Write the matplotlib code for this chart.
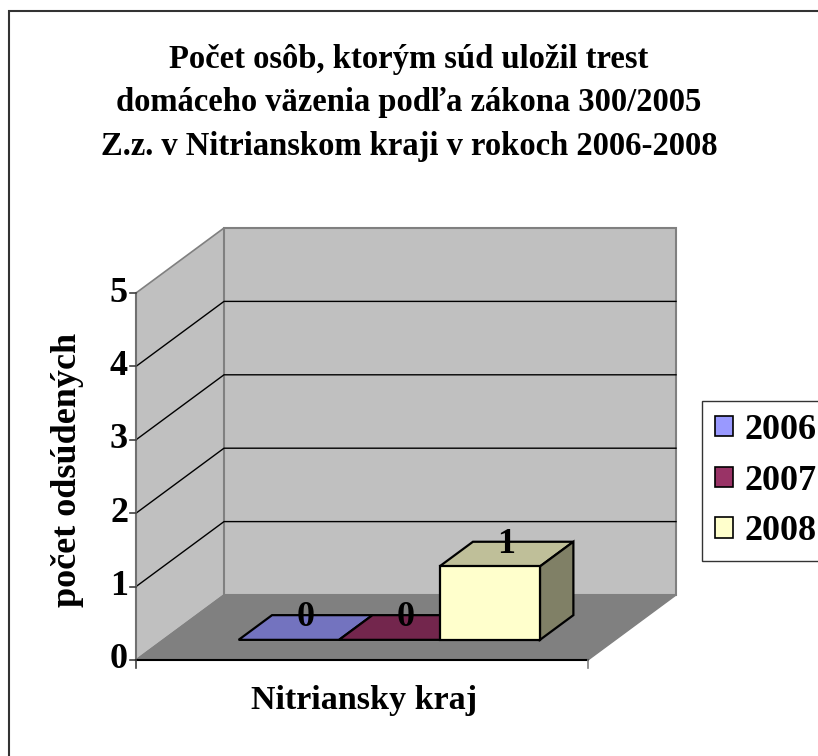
import matplotlib
matplotlib.use("Agg")
import matplotlib.pyplot as plt
from matplotlib.patches import Polygon, Patch, Rectangle
import numpy as np

# data
title_lines = ["Počet osôb, ktorým súd uložil trest",
               "domáceho väzenia podľa zákona 300/2005",
               "Z.z. v Nitrianskom kraji v rokoch 2006-2008"]
category = "Nitriansky kraj"
years = ["2006", "2007", "2008"]
counts = [0, 0, 1]
y_ticks = [0, 1, 2, 3, 4, 5]
y_label = "počet odsúdených"
colors = ["#9999FF", "#993366", "#FFFFCC"]

plt.rcParams['font.family'] = ['Liberation Serif', 'DejaVu Serif']
plt.rcParams['font.weight'] = 'bold'

W, H = 818, 756
fig = plt.figure(figsize=(W / 100, H / 100), dpi=100)
ax = fig.add_axes([0, 0, 1, 1])
ax.set_axis_off()

# plot geometry in pixels -> data units (x: category width, y: value)
X0_PX, X1_PX = 136, 588
V0_PX, PX_PER_UNIT = 660, 73.4
DEPTH_PX = (88, 65)
cat_w = X1_PX - X0_PX
ax.set_xlim((0 - X0_PX) / cat_w, (W - X0_PX) / cat_w)
ax.set_ylim((V0_PX - H) / PX_PER_UNIT, V0_PX / PX_PER_UNIT)
DX = DEPTH_PX[0] / cat_w
DY = DEPTH_PX[1] / PX_PER_UNIT
px = 1.0 / cat_w  # one pixel in x units
vmax = y_ticks[-1]


def P(x, v, d):
    return (x + d * DX, v + d * DY)


def face(pts, fc, ec, lw, z):
    ax.add_patch(Polygon([P(*p) for p in pts], closed=True, fc=fc, ec=ec,
                         lw=lw, zorder=z, joinstyle='miter'))


# walls and floor
face([(0, 0, 0), (0, vmax, 0), (0, vmax, 1), (0, 0, 1)], "#C0C0C0", "#808080", 1.2, 1)
face([(0, 0, 1), (1, 0, 1), (1, vmax, 1), (0, vmax, 1)], "#C0C0C0", "#808080", 1.5, 1)
face([(0, 0, 0), (1, 0, 0), (1, 0, 1), (0, 0, 1)], "#808080", "#808080", 1.0, 1)

# gridlines
for v in y_ticks[1:-1]:
    xs, ys = zip(P(0, v, 0), P(0, v, 1), P(1, v, 1))
    ax.plot(xs, ys, color="black", lw=1.0, zorder=2)

# value axis
ax.plot([0, 0], [0, vmax], color="#707070", lw=1.5, zorder=3)
for v in y_ticks:
    ax.plot([-6 * px, 0], [v, v], color="#404040", lw=1.2, zorder=3)
    ax.text(-8 * px, v, str(v), ha="right", va="center", fontsize=26,
            fontweight="bold", zorder=3)
ax.plot([0, 1], [0, 0], color="black", lw=1.5, zorder=3)
ax.plot([1, 1], [0, -8 / PX_PER_UNIT], color="#808080", lw=1.2, zorder=3)
ax.plot([0, 0], [0, -8 / PX_PER_UNIT], color="#404040", lw=1.2, zorder=3)

# bars (gap width 150%)
n = len(years)
bw = 1.0 / (n + 1.5)
d0, d1 = 0.31, 0.69


def shade(c, f):
    r, g, b = matplotlib.colors.to_rgb(c)
    return (r * f, g * f, b * f)


for i, (yr, val, c) in enumerate(zip(years, counts, colors)):
    x0 = 0.75 * bw + i * bw
    x1 = x0 + bw
    z = 5 + i
    face([(x0, val, d0), (x1, val, d0), (x1, val, d1), (x0, val, d1)],
         shade(c, 0.75), "black", 1.6, z)
    if val > 0:
        face([(x1, 0, d0), (x1, 0, d1), (x1, val, d1), (x1, val, d0)],
             shade(c, 0.5), "black", 1.6, z)
        face([(x0, 0, d0), (x1, 0, d0), (x1, val, d0), (x0, val, d0)],
             c, "black", 1.6, z)
    lx, ly = P((x0 + x1) / 2, val, 0.5)
    ax.text(lx, ly + 10 / PX_PER_UNIT, str(val), ha="center", va="center",
            fontsize=26, fontweight="bold", zorder=20)

# texts
ax.text(-68 * px, (V0_PX - 470) / PX_PER_UNIT, y_label, rotation=90,
        ha="center", va="center", fontsize=26, fontweight="bold")
ax.text((364 - X0_PX) * px, (V0_PX - 709) / PX_PER_UNIT, category,
        ha="center", va="baseline", fontsize=24.5, fontweight="bold")
for k, line in enumerate(title_lines):
    fig.text(409 / W, 1 - (68 + 43.5 * k) / H, line, ha="center",
             va="baseline", fontsize=23.5, fontweight="bold")

# legend
handles = [Patch(fc=c, ec="black", lw=1.2) for c in colors]
leg = fig.legend(handles, years, loc="upper left",
                 bbox_to_anchor=(702 / W, 1 - 401 / H), frameon=True,
                 fontsize=26, handlelength=0.5, handleheight=0.5,
                 handletextpad=0.33, labelspacing=0.49, borderpad=0.36,
                 borderaxespad=0, fancybox=False)
leg.get_frame().set_edgecolor("black")
leg.get_frame().set_linewidth(1.0)
for t in leg.get_texts():
    t.set_fontweight("bold")

# outer border
fig.patches.append(Rectangle((9 / W, -0.05), 1.1, 1 - 11 / H + 0.05,
                             transform=fig.transFigure, fill=False,
                             ec="#333333", lw=1.5, zorder=0))

fig.savefig("out.png", dpi=100)
